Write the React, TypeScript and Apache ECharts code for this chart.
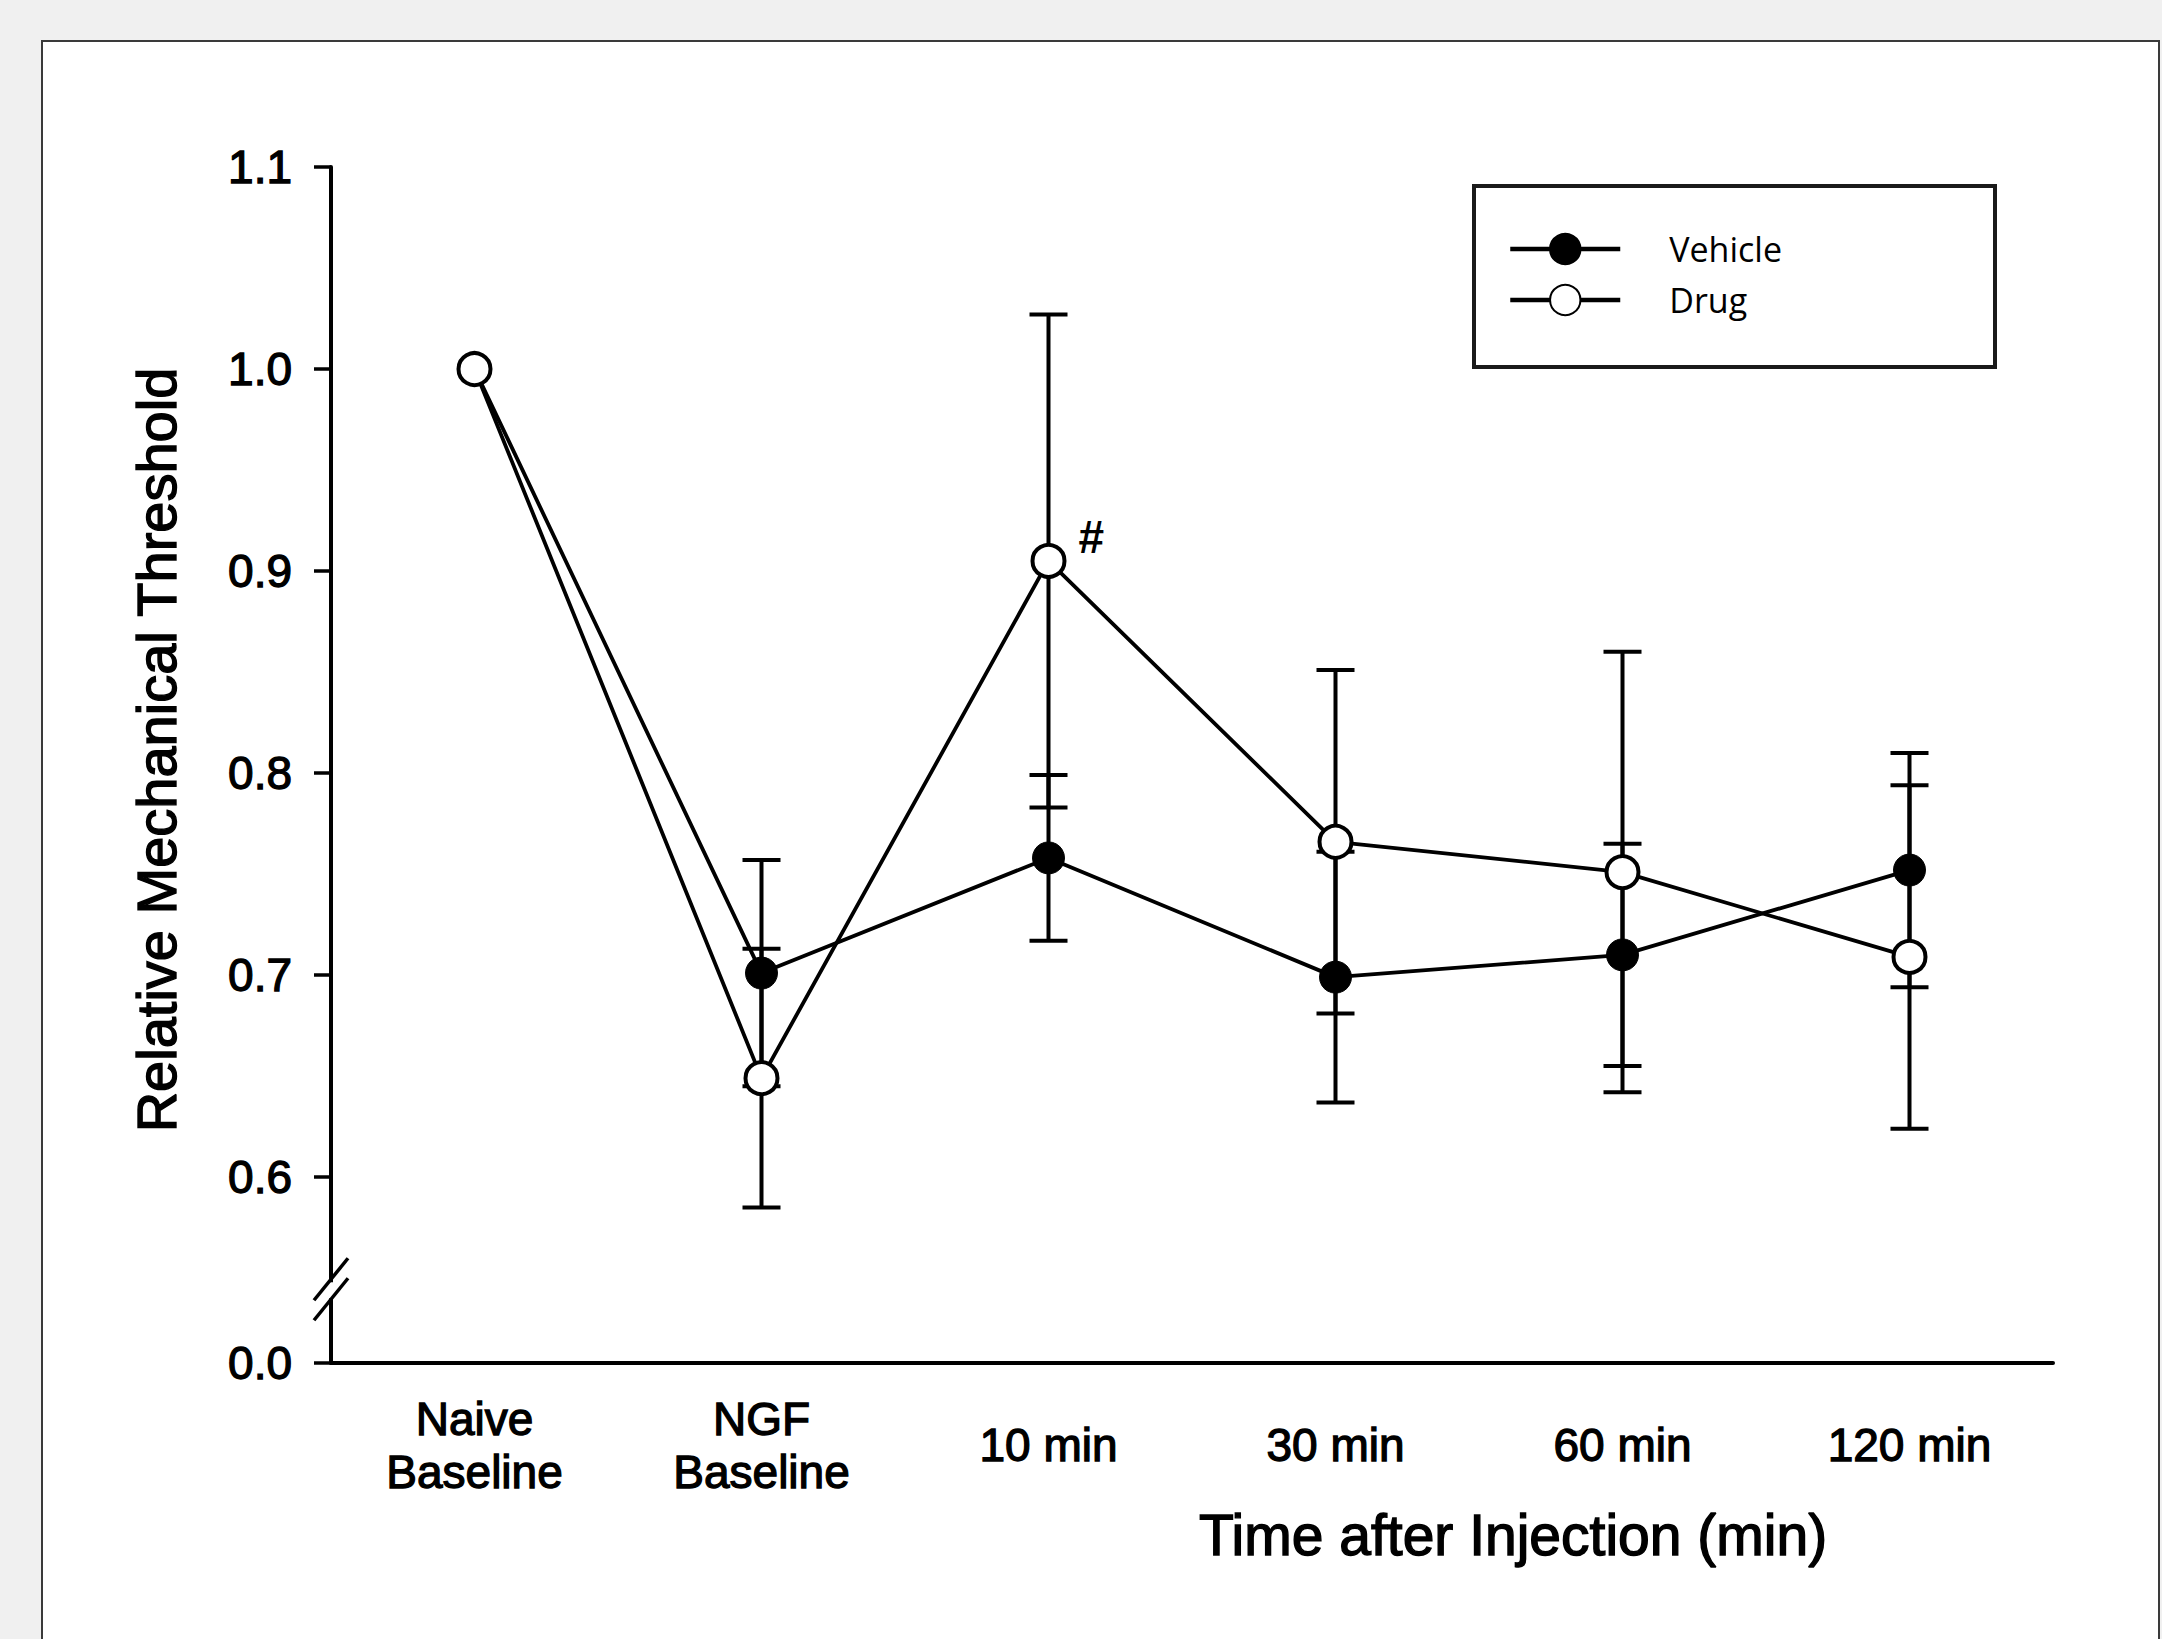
import React, { useEffect, useRef } from "react";
import * as echarts from "echarts";

const categories = ["Naive\nBaseline", "NGF\nBaseline", "10 min", "30 min", "60 min", "120 min"];
const vehicleMean = [1.0, 0.701, 0.758, 0.699, 0.71, 0.752];
const vehicleErr = [0, 0.056, 0.041, 0.062, 0.055, 0.058];
const drugMean = [1.0, 0.649, 0.905, 0.766, 0.751, 0.709];
const drugErr = [0, 0.064, 0.122, 0.085, 0.109, 0.085];
const drugAnnot = ["", "", "#", "", "", ""];
const yTickValues = [0.508, 0.6, 0.7, 0.8, 0.9, 1.0, 1.1];
const yTickLabels = ["0.0", "0.6", "0.7", "0.8", "0.9", "1.0", "1.1"];
const yMin = 0.508;
const yMax = 1.1;
const breakValue = 0.544;

const W = 2162;
const H = 1639;
const GRID_LEFT = 331;
const GRID_RIGHT = 109;
const GRID_TOP = 167;
const GRID_BOTTOM = 276;
const FONT = "'Liberation Sans', Arial, sans-serif";
const THICK = { textBorderColor: "#000", textBorderWidth: 1.3 };

function errorData(mean: number[], err: number[]) {
  return mean.map((m, i) => [i, m - err[i], m + err[i]]);
}

function errorRender(params: any, api: any) {
  const x = api.value(0);
  const lo = api.value(1);
  const hi = api.value(2);
  if (hi - lo <= 1e-9) return null;
  const pLo = api.coord([x, lo]);
  const pHi = api.coord([x, hi]);
  const hw = 19;
  const style = { stroke: "#000", lineWidth: 4 };
  return {
    type: "group",
    children: [
      { type: "line", shape: { x1: pLo[0], y1: pLo[1], x2: pHi[0], y2: pHi[1] }, style },
      { type: "line", shape: { x1: pHi[0] - hw, y1: pHi[1], x2: pHi[0] + hw, y2: pHi[1] }, style },
      { type: "line", shape: { x1: pLo[0] - hw, y1: pLo[1], x2: pLo[0] + hw, y2: pLo[1] }, style },
    ],
  };
}

export default function App() {
  const ref = useRef<HTMLDivElement>(null);
  useEffect(() => {
    if (!ref.current) return;
    const chart = echarts.init(ref.current, null, { renderer: "svg", width: W, height: H });
    const option: any = {
      animation: false,
      backgroundColor: "transparent",
      grid: {
        left: GRID_LEFT,
        right: GRID_RIGHT,
        top: GRID_TOP,
        bottom: GRID_BOTTOM,
        containLabel: false,
        outerBoundsMode: "none",
      },
      legend: {
        data: ["Vehicle", "Drug"],
        orient: "vertical",
        left: 1503,
        top: 227,
        itemWidth: 110,
        itemHeight: 38,
        itemGap: 17,
        lineStyle: { width: 4.5 },
        textStyle: {
          fontFamily: "'Open Sans', 'Noto Sans', sans-serif",
          fontSize: 34,
          color: "#000",
          padding: [0, 0, 0, 44],
        },
      },
      xAxis: {
        type: "category",
        data: categories,
        boundaryGap: true,
        axisLine: { lineStyle: { color: "#000", width: 4 } },
        axisTick: { alignWithLabel: true, length: 16, lineStyle: { color: "#000", width: 3.5 } },
        axisLabel: {
          fontFamily: FONT,
          fontSize: 46,
          lineHeight: 53,
          color: "#000",
          margin: 82,
          verticalAlign: "middle",
          interval: 0,
          ...THICK,
        },
        splitLine: { show: false },
      },
      yAxis: {
        type: "value",
        min: yMin,
        max: yMax,
        axisLine: { show: true, lineStyle: { color: "#000", width: 4 } },
        axisTick: {
          show: true,
          length: 17,
          customValues: yTickValues,
          lineStyle: { color: "#000", width: 3.5 },
        },
        axisLabel: {
          customValues: yTickValues,
          formatter: (v: number) => {
            let best = 0;
            for (let i = 0; i < yTickValues.length; i++) {
              if (Math.abs(yTickValues[i] - v) < Math.abs(yTickValues[best] - v)) best = i;
            }
            return yTickLabels[best];
          },
          fontFamily: FONT,
          fontSize: 46,
          color: "#000",
          margin: 39,
          ...THICK,
        },
        splitLine: { show: false },
      },
      series: [
        {
          type: "custom",
          name: "VehicleErr",
          data: errorData(vehicleMean, vehicleErr),
          encode: { x: 0, y: [1, 2] },
          renderItem: errorRender,
          z: 1,
          silent: true,
        },
        {
          type: "custom",
          name: "DrugErr",
          data: errorData(drugMean, drugErr),
          encode: { x: 0, y: [1, 2] },
          renderItem: errorRender,
          z: 1,
          silent: true,
        },
        {
          type: "line",
          name: "Vehicle",
          data: vehicleMean,
          symbol: "circle",
          symbolSize: 32,
          lineStyle: { color: "#000", width: 3.8 },
          itemStyle: { color: "#000", borderColor: "#000", borderWidth: 1 },
          z: 3,
        },
        {
          type: "line",
          name: "Drug",
          data: drugMean.map((v, i) =>
            drugAnnot[i]
              ? {
                  value: v,
                  label: {
                    show: true,
                    formatter: drugAnnot[i],
                    position: "right",
                    distance: 12,
                    offset: [0, -24],
                    fontFamily: FONT,
                    fontWeight: "bold",
                    fontSize: 46,
                    color: "#000",
                  },
                }
              : v
          ),
          symbol: "circle",
          symbolSize: 32,
          lineStyle: { color: "#000", width: 3.8 },
          itemStyle: { color: "#fff", borderColor: "#000", borderWidth: 4 },
          z: 4,
        },
      ],
    };
    chart.setOption(option);

    const by = chart.convertToPixel({ yAxisIndex: 0 } as any, breakValue) as number;
    const ax = GRID_LEFT;
    const slash = { stroke: "#000", lineWidth: 3.5 };
    chart.setOption({
      graphic: [
        {
          type: "rect",
          z: 20,
          shape: { x: ax - 6, y: by - 8, width: 12, height: 16 },
          style: { fill: "#fff" },
        },
        {
          type: "line",
          z: 21,
          shape: { x1: ax - 17, y1: by + 10 + 20, x2: ax + 17, y2: by + 10 - 22 },
          style: slash,
        },
        {
          type: "line",
          z: 21,
          shape: { x1: ax - 17, y1: by - 10 + 20, x2: ax + 17, y2: by - 10 - 22 },
          style: slash,
        },
        {
          type: "text",
          z: 10,
          x: 156,
          y: 750,
          rotation: Math.PI / 2,
          style: {
            text: "Relative Mechanical Threshold",
            fontFamily: FONT,
            fontSize: 56,
            fill: "#000",
            stroke: "#000",
            lineWidth: 1.4,
            align: "center",
            verticalAlign: "middle",
          },
        },
        {
          type: "text",
          z: 10,
          x: 1513,
          y: 1535,
          style: {
            text: "Time after Injection (min)",
            fontFamily: FONT,
            fontSize: 57,
            fill: "#000",
            stroke: "#000",
            lineWidth: 1.4,
            align: "center",
            verticalAlign: "middle",
          },
        },
        {
          type: "rect",
          z: -1,
          shape: { x: 1474, y: 186, width: 521, height: 181 },
          style: { fill: "#fff", stroke: "#1a1a1a", lineWidth: 4 },
        },
      ],
    });

    return () => {
      chart.dispose();
    };
  }, []);

  return (
    <div
      style={{
        position: "fixed",
        left: 0,
        top: 0,
        width: W,
        height: H,
        overflow: "hidden",
        background: "#f0f0f0",
      }}
    >
      <div
        style={{
          position: "absolute",
          left: 41,
          top: 40,
          width: 2119,
          height: 1700,
          boxSizing: "border-box",
          background: "#fff",
          border: "2px solid #3a3a3a",
        }}
      />
      <div ref={ref} style={{ position: "absolute", left: 0, top: 0, width: W, height: H }} />
    </div>
  );
}
